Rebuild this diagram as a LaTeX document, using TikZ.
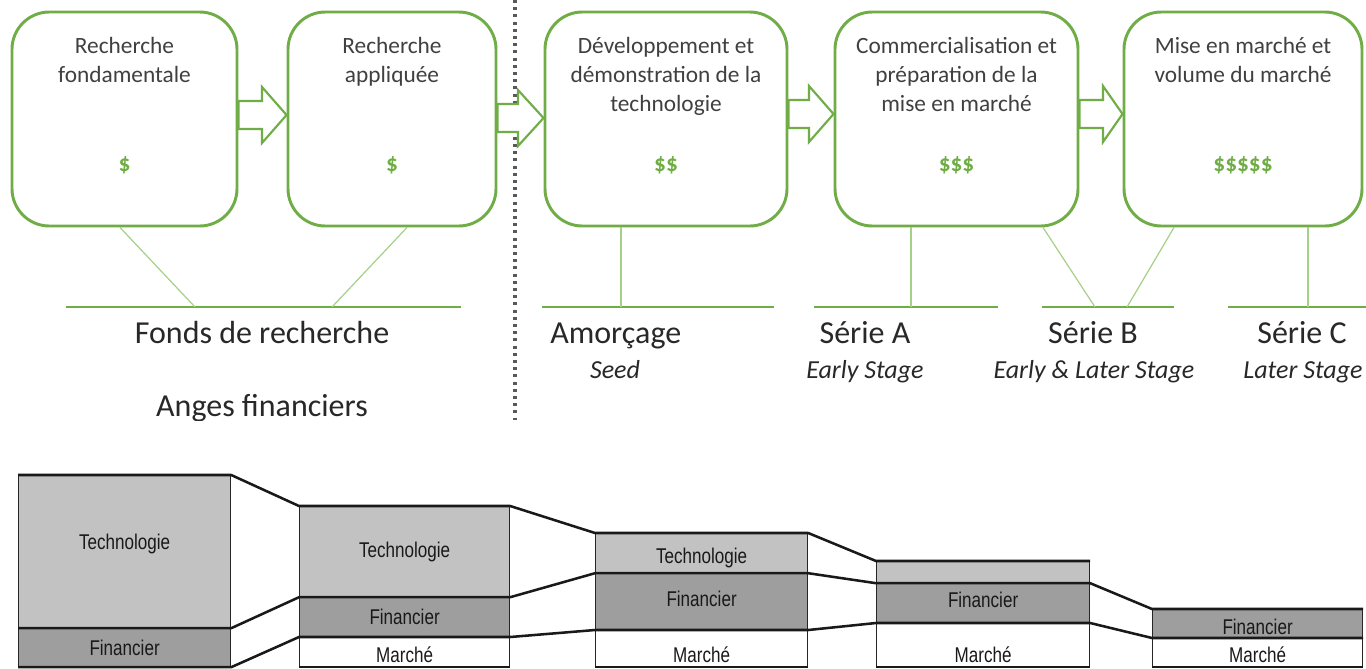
\documentclass[tikz,border=0pt]{standalone}
\usepackage{fontspec}
\setmainfont{Carlito}
\newfontfamily\narrowfont[FakeStretch=0.8]{Liberation Sans}
\usetikzlibrary{calc}
\definecolor{gr}{RGB}{112,173,71}
\definecolor{grl}{RGB}{165,208,135}
\definecolor{txt}{RGB}{64,64,64}
\definecolor{labc}{RGB}{40,40,40}
\definecolor{techg}{RGB}{194,194,194}
\definecolor{fing}{RGB}{158,158,158}
\newcommand\hollowarrow[4]{%
  \draw[harrow] (#1.east |- 0,#4-14) -- (#3,#4-14) -- (#3,#4-28) -- (#2.west |- 0,#4)
    -- (#3,#4+28) -- (#3,#4+14) -- (#1.east |- 0,#4+14) -- cycle;}
\begin{document}
\begin{tikzpicture}[x=0.75pt,y=-0.75pt,
  gbox/.style={draw=gr, line width=2.2pt, rounded corners=28pt, fill=white, inner sep=0pt, minimum height=160.5pt},
  btext/.style={font=\fontsize{17.5}{21.4}\selectfont, text=txt, align=center, anchor=base, inner sep=0pt},
  dollar/.style={font=\fontsize{17.5}{21}\selectfont\bfseries, text=gr, anchor=base, inner sep=0pt},
  harrow/.style={draw=gr, line width=1.6pt, fill=white, line join=miter},
  bar/.style={draw=gr, line width=2.2pt},
  tie/.style={draw=grl, line width=0.9pt},
  lab/.style={font=\fontsize{24}{28}\selectfont, text=labc, anchor=base, inner sep=0pt},
  ilab/.style={font=\fontsize{19.5}{23}\selectfont\itshape, text=labc, anchor=base, inner sep=0pt},
  seg/.style={draw=black!85, line width=0.9pt, inner sep=0pt, anchor=north west},
  conn/.style={draw=black!90, line width=1.9pt, line join=round},
  stxt/.style={font=\narrowfont\fontsize{16}{18}\selectfont, text=black!90, anchor=base, inner sep=0pt},
  dotline/.style={draw=black!65, line width=2.4pt, dash pattern=on 2.2pt off 3.2pt}
]
\useasboundingbox (0,0) rectangle (1366,668);
\fill[white] (0,0) rectangle (1366,668);

% ---------------- top part ----------------
\begin{scope}
\clip (0,0) rectangle (1366,420);
\draw[dotline] (515,0) -- (515,420);

\node[gbox, minimum width=168.75pt] (B1) at (124.5,119) {};
\node[gbox, minimum width=156pt]    (B2) at (392,119) {};
\node[gbox, minimum width=181.5pt]  (B3) at (666,119) {};
\node[gbox, minimum width=182.25pt] (B4) at (956.5,119) {};
\node[gbox, minimum width=178.5pt]  (B5) at (1243,119) {};

\hollowarrow{B1}{B2}{262}{115}
\hollowarrow{B2}{B3}{518}{118}
\hollowarrow{B3}{B4}{809}{114}
\hollowarrow{B4}{B5}{1103}{114}

% anchor=base of a multi-line node is the baseline of its last line
\node[btext] (t1) at (B1.center |- 0,82.5) {Recherche\\fondamentale};
\node[btext] (t2) at (B2.center |- 0,82.5) {Recherche\\appliquée};
\node[btext] (t3) at (B3.center |- 0,111) {Développement et\\démonstration de la\\technologie};
\node[btext] (t4) at (B4.center |- 0,111) {Commercialisation et\\préparation de la\\mise en marché};
\node[btext] (t5) at (B5.center |- 0,82.5) {Mise en marché et\\volume du marché};

\node[dollar] (d1) at (B1.center |- 0,171) {\$};
\node[dollar] (d2) at (B2.center |- 0,171) {\$};
\node[dollar] (d3) at (B3.center |- 0,171) {\$\$};
\node[dollar] (d4) at (B4.center |- 0,171) {\$\$\$};
\node[dollar] (d5) at (B5.center |- 0,171) {\$\$\$\$\$};

% bars
\coordinate (h1a) at (66,307);   \coordinate (h1b) at (461,307);
\coordinate (h2a) at (542,307);  \coordinate (h2b) at (774,307);
\coordinate (h3a) at (814,307);  \coordinate (h3b) at (998,307);
\coordinate (h4a) at (1042,307); \coordinate (h4b) at (1174,307);
\coordinate (h5a) at (1228,307); \coordinate (h5b) at (1366,307);
\draw[bar] (h1a) -- (h1b);
\draw[bar] (h2a) -- (h2b);
\draw[bar] (h3a) -- (h3b);
\draw[bar] (h4a) -- (h4b);
\draw[bar] (h5a) -- (h5b);

% ties
\coordinate (e1) at (195,307);
\coordinate (e2) at (332,307);
\coordinate (e3) at (621,307);
\coordinate (e4) at (911,307);
\coordinate (e5) at (1095,307);
\coordinate (e6) at (1127,307);
\coordinate (e7) at (1308,307);
\draw[tie] (B1.south -| 120,0) -- (e1);
\draw[tie] (B2.south -| 407,0) -- (e2);
\draw[tie] (B3.south -| 621,0) -- (e3);
\draw[tie] (B4.south -| 911,0) -- (e4);
\draw[tie] (B4.south -| 1043,0) -- (e5);
\draw[tie] (B5.south -| 1174,0) -- (e6);
\draw[tie] (B5.south -| 1308,0) -- (e7);

% labels
\node[lab] (l1) at (262,343) {Fonds de recherche};
\node[lab] (l2) at (262,416) {Anges financiers};
\node[lab, anchor=base west] (l3) at (550,343) {Amorçage};
\node[ilab] (l3i) at (615,378) {Seed};
\node[lab] (l4) at (865,343) {Série A};
\node[ilab] (l4i) at (865,378) {Early Stage};
\node[lab] (l5) at (1093,343) {Série B};
\node[ilab] (l5i) at (1094,378) {Early \& Later Stage};
\node[lab] (l6) at (1302,343) {Série C};
\node[ilab] (l6i) at (1303,378) {Later Stage};
\end{scope}

% ---------------- bottom part ----------------
\begin{scope}
\clip (0,0) rectangle (1366,668);
% block 1
\node[seg, fill=techg, minimum width=159pt, minimum height=114pt] (T1) at (18,475) {};
\node[seg, fill=fing,  minimum width=159pt, minimum height=29.25pt] (F1) at (18,627) {};
% block 2
\node[seg, fill=techg, minimum width=157.5pt, minimum height=67.5pt] (T2) at (299,506) {};
\node[seg, fill=fing,  minimum width=157.5pt, minimum height=30.75pt] (F2) at (299,596) {};
\node[seg, fill=white, minimum width=157.5pt, minimum height=21.75pt] (M2) at (299,637) {};
% block 3
\node[seg, fill=techg, minimum width=159pt, minimum height=29.25pt] (T3) at (595,533) {};
\node[seg, fill=fing,  minimum width=159pt, minimum height=43.5pt] (F3) at (595,572) {};
\node[seg, fill=white, minimum width=159pt, minimum height=27pt] (M3) at (595,630) {};
% block 4
\node[seg, fill=techg, minimum width=159.75pt, minimum height=15.75pt] (T4) at (876,561) {};
\node[seg, fill=fing,  minimum width=159.75pt, minimum height=30.75pt] (F4) at (876,582) {};
\node[seg, fill=white, minimum width=159.75pt, minimum height=32.25pt] (M4) at (876,623) {};
% block 5
\node[seg, fill=fing,  minimum width=157.5pt, minimum height=21.75pt] (F5) at (1152,609) {};
\node[seg, fill=white, minimum width=157.5pt, minimum height=21pt] (M5) at (1152,638) {};

% texts
\node[stxt] (x1) at (T1.center |- 0,549) {Technologie};
\node[stxt] (x2) at (F1.center |- 0,655) {Financier};
\node[stxt] (x3) at (T2.center |- 0,557) {Technologie};
\node[stxt] (x4) at (F2.center |- 0,624) {Financier};
\node[stxt] (x5) at (M2.center |- 0,662) {Marché};
\node[stxt] (x6) at (T3.center |- 0,563) {Technologie};
\node[stxt] (x7) at (F3.center |- 0,606) {Financier};
\node[stxt] (x8) at (M3.center |- 0,662) {Marché};
\node[stxt] (x9) at (F4.center |- 0,607) {Financier};
\node[stxt] (x10) at (M4.center |- 0,662) {Marché};
\node[stxt] (x11) at (F5.center |- 0,634) {Financier};
\node[stxt] (x12) at (M5.center |- 0,662) {Marché};

% thick contour lines and connectors
\draw[conn] (T1.north west) -- (T1.north east) -- (T2.north west) -- (T2.north east)
  -- (T3.north west) -- (T3.north east) -- (T4.north west) -- (T4.north east);
\draw[conn] (T1.south west) -- (T1.south east) -- (T2.south west) -- (T2.south east)
  -- (T3.south west) -- (T3.south east) -- (T4.south west) -- (T4.south east)
  -- (F5.north west) -- (F5.north east);
\draw[conn] (F1.south west) -- (F1.south east) -- (M2.north west) -- (M2.north east)
  -- (M3.north west) -- (M3.north east) -- (M4.north west) -- (M4.north east)
  -- (M5.north west) -- (M5.north east);
\draw[conn] (M2.south west) -- (M2.south east);
\draw[conn] (M3.south west) -- (M3.south east);
\draw[conn] (M4.south west) -- (M4.south east);
\draw[conn] (M5.south west) -- (M5.south east);
\end{scope}
\end{tikzpicture}
\end{document}
